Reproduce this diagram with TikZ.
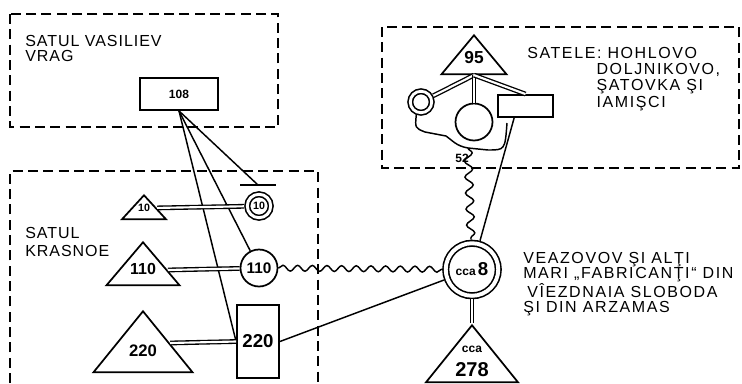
\documentclass[tikz,border=0pt]{standalone}
\usepackage{fontspec}
\setmainfont{Liberation Sans}
\newfontfamily\capsfont[LetterSpace=6]{Liberation Sans}
\newfontfamily\widecapsfont[LetterSpace=10]{Liberation Sans}
\usetikzlibrary{arrows.meta,calc,positioning,shapes.geometric,decorations.pathmorphing}
% label of a triangle, shifted from its centre
\newcommand{\trilabel}[2]{\smash{\makebox[0pt]{\raisebox{#1}{#2}}}}

\begin{document}
\begin{tikzpicture}[
    x=.75pt,y=-.75pt,
    zone/.style={line width=1.8pt,dash pattern=on 7.5pt off 4pt},
    txt/.style={anchor=north west,inner sep=0pt,align=left},
    box/.style={rectangle,draw,line width=1.4pt,inner sep=0pt,font=\bfseries},
    ring/.style={circle,draw,line width=1.3pt,inner sep=0pt,font=\bfseries},
    dring/.style={circle,draw,double,line width=1.2pt,inner sep=0pt,font=\bfseries},
    tri/.style={isosceles triangle,isosceles triangle stretches,shape border rotate=90,draw,line width=1.3pt,inner sep=0pt,anchor=apex,font=\bfseries},
    e/.style={line width=1.1pt},
    dbl/.style={double,double distance=1.6pt,line width=1pt},
    wave/.style={line width=1.1pt,decorate,decoration={snake,amplitude=2.2pt,segment length=11pt}}
  ]
    \useasboundingbox (0,0) rectangle (742,383);
    % zones
    \draw[zone] (10,14) rectangle (278,127);
    \draw[zone] (10,383) -- (10,171) -- (318,171) -- (318,383);
    \draw[zone] (382,27) rectangle (739,168);
    \node[txt,font=\capsfont\fontsize{12}{11.5}\selectfont] (tvrag) at (25,35) {SATUL VASILIEV\\VRAG};
    \node[txt,font=\capsfont\fontsize{12}{13.7}\selectfont] (tkras) at (25,227) {SATUL\\KRASNOE};
    \node[txt,font=\widecapsfont\fontsize{12}{12.2}\selectfont] (tsat) at (527,47)
      {SATELE:~HOHLOVO\\\hspace*{52pt}DOLJNIKOVO,\\\hspace*{52pt}ŞATOVKA ŞI\\\hspace*{52pt}IAMIŞCI};
    \node[txt,font=\widecapsfont\fontsize{12}{11.2}\selectfont] (tvea) at (523,252)
      {VEAZOVOV ŞI ALŢI\\MARI „FABRICANŢI“ DIN\\\hspace*{3pt}VÎEZDNAIA SLOBODA\\ŞI DIN ARZAMAS};

    % Vasiliev Vrag / Krasnoe
    \node[box,minimum width=58.5pt,minimum height=24pt,font=\bfseries\fontsize{9}{9}\selectfont] (v108) at (179,94) {108};
    \node[tri,minimum height=18pt,minimum width=33pt,font=\bfseries\fontsize{8}{8}\selectfont] (t10) at (144,193) {\trilabel{-1.4pt}{10}};
    \node[dring,minimum size=17.6pt,double distance=2.2pt,outer sep=2.3pt,font=\bfseries\fontsize{8}{8}\selectfont] (c10) at (259,206) {10};
    \coordinate (c10bar) at (258,185);
    \node[tri,minimum height=32.25pt,minimum width=54.75pt,font=\bfseries\fontsize{12}{12}\selectfont] (t110) at (143,240) {\trilabel{-4.5pt}{110}};
    \node[ring,minimum size=27.75pt,font=\bfseries\fontsize{11.5}{11.5}\selectfont] (c110) at (259,268) {110};
    \node[tri,minimum height=45.75pt,minimum width=74.25pt,font=\bfseries\fontsize{12.5}{12.5}\selectfont] (t220) at (143,309) {\trilabel{-5.5pt}{220}};
    \node[box,minimum width=31.5pt,minimum height=54.75pt,font=\bfseries\fontsize{14}{14}\selectfont] (r220) at (258,341.5) {220};

    % centre
    \node[dring,minimum size=39.4pt,double distance=2.95pt,outer sep=2.7pt] (c8) at (472,269.5) {{\fontsize{9}{9}\selectfont cca}\,{\fontsize{14}{14}\selectfont 8}};
    \node[tri,minimum height=42.75pt,minimum width=69pt] (t278) at (472,323)
      {\trilabel{5.8pt}{\fontsize{9}{9}\selectfont cca}\trilabel{-11.8pt}{\fontsize{15}{15}\selectfont 278}};

    % Satele
    \node[tri,minimum height=29.25pt,minimum width=48.75pt,font=\bfseries\fontsize{13}{13}\selectfont] (t95) at (474,33) {\trilabel{-3.2pt}{95}};
    \node[dring,minimum size=16.1pt,double distance=2.15pt,outer sep=2.3pt] (c95a) at (421,102) {};
    \node[ring,minimum size=27.75pt] (c95b) at (474,122) {};
    \node[box,minimum width=41.25pt,minimum height=16.5pt] (r95) at (525.5,106) {};
    \coordinate (j52) at (468,148);
    \coordinate (k95) at (507,123);
    \node[font=\bfseries\fontsize{9}{9}\selectfont,inner sep=0pt] (n52) at (462,158) {52};

    \draw[e] (v108.south) -- (c10bar);
    \draw[line width=.8pt] (c10bar) ++(-18,0) -- ++(36,0);
    \draw[e] (v108.south) -- (c110);
    \draw[e] (v108.south) -- (r220.west);
    \draw[dbl] (c10) -- ($(t10.apex)!.55!(t10.right corner)$);
    \draw[dbl] (c110) -- ($(t110.apex)!.65!(t110.right corner)$);
    \draw[dbl] (r220.west) -- ($(t220.apex)!.53!(t220.right corner)$);
    \draw[e] (r220.east) -- (c8);
    \draw[wave] (c110) -- (c8);
    \draw[dbl] (c8) -- (t278.apex);
    \draw[dbl] (t95.south) -- (c95a);
    \draw[dbl] (t95.south) -- (c95b);
    \draw[dbl] (t95.south) -- (r95.north);
    \draw[e] ($(r95.south west)!.3!(r95.south east)$) -- (c8);
    \draw[e] (c95a.250) .. controls (415,128) .. (425,132) -- (446,136) .. controls (452,140) and (456,146) .. (j52);
    \draw[e] (k95) .. controls (505,150) .. (488,150) -- (j52);
    \draw[wave,decoration={amplitude=3pt,segment length=12pt}] (j52) -- (c8);
  \end{tikzpicture}
\end{document}
